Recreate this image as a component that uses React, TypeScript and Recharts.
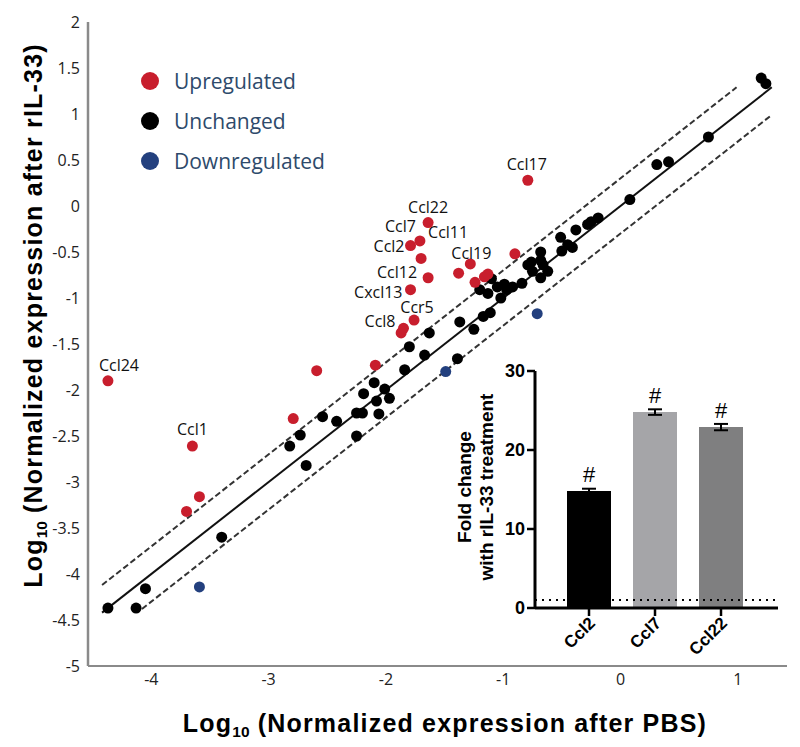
import React from "react";
import {
  ScatterChart,
  Scatter,
  XAxis,
  YAxis,
  ReferenceLine,
  BarChart,
  Bar,
  Cell,
  ErrorBar,
  LabelList,
} from "recharts";

type Pt = { x: number; y: number; name?: string };

// log10 expression: x = after PBS, y = after rIL-33
const upregulated: Pt[] = [
  { x: -4.37, y: -1.9, name: "Ccl24" },
  { x: -3.65, y: -2.61, name: "Ccl1" },
  { x: -3.59, y: -3.16 },
  { x: -3.7, y: -3.32 },
  { x: -2.79, y: -2.31 },
  { x: -2.59, y: -1.79 },
  { x: -2.09, y: -1.73 },
  { x: -1.87, y: -1.38 },
  { x: -1.85, y: -1.33, name: "Ccl8" },
  { x: -1.76, y: -1.24, name: "Ccr5" },
  { x: -1.79, y: -0.91, name: "Cxcl13" },
  { x: -1.64, y: -0.78, name: "Ccl12" },
  { x: -1.7, y: -0.57, name: "Ccl11" },
  { x: -1.79, y: -0.43, name: "Ccl2" },
  { x: -1.71, y: -0.38, name: "Ccl7" },
  { x: -1.64, y: -0.18, name: "Ccl22" },
  { x: -1.28, y: -0.63, name: "Ccl19" },
  { x: -1.38, y: -0.73 },
  { x: -1.24, y: -0.83 },
  { x: -1.16, y: -0.77 },
  { x: -1.13, y: -0.74 },
  { x: -0.9, y: -0.52 },
  { x: -0.79, y: 0.28, name: "Ccl17" },
];

const unchanged: Pt[] = [
  { x: -4.37, y: -4.37 },
  { x: -4.13, y: -4.37 },
  { x: -4.05, y: -4.16 },
  { x: -3.4, y: -3.6 },
  { x: -2.82, y: -2.61 },
  { x: -2.73, y: -2.49 },
  { x: -2.68, y: -2.82 },
  { x: -2.54, y: -2.29 },
  { x: -2.42, y: -2.34 },
  { x: -2.25, y: -2.25 },
  { x: -2.2, y: -2.25 },
  { x: -2.25, y: -2.5 },
  { x: -2.06, y: -2.26 },
  { x: -2.19, y: -2.04 },
  { x: -2.1, y: -1.92 },
  { x: -2.08, y: -2.12 },
  { x: -2.01, y: -1.99 },
  { x: -1.97, y: -2.09 },
  { x: -1.84, y: -1.78 },
  { x: -1.8, y: -1.53 },
  { x: -1.67, y: -1.62 },
  { x: -1.63, y: -1.38 },
  { x: -1.39, y: -1.66 },
  { x: -1.37, y: -1.26 },
  { x: -1.25, y: -1.34 },
  { x: -1.17, y: -1.2 },
  { x: -1.11, y: -1.16 },
  { x: -1.1, y: -0.79 },
  { x: -1.2, y: -0.91 },
  { x: -1.13, y: -0.95 },
  { x: -1.05, y: -0.88 },
  { x: -0.99, y: -0.85 },
  { x: -0.97, y: -0.91 },
  { x: -1.02, y: -1.0 },
  { x: -0.92, y: -0.88 },
  { x: -0.84, y: -0.84 },
  { x: -0.79, y: -0.64 },
  { x: -0.76, y: -0.61 },
  { x: -0.75, y: -0.71 },
  { x: -0.68, y: -0.5 },
  { x: -0.68, y: -0.59 },
  { x: -0.66, y: -0.64 },
  { x: -0.62, y: -0.71 },
  { x: -0.68, y: -0.78 },
  { x: -0.51, y: -0.34 },
  { x: -0.5, y: -0.49 },
  { x: -0.45, y: -0.42 },
  { x: -0.41, y: -0.45 },
  { x: -0.38, y: -0.26 },
  { x: -0.28, y: -0.2 },
  { x: -0.25, y: -0.17 },
  { x: -0.19, y: -0.13 },
  { x: 0.08, y: 0.07 },
  { x: 0.31, y: 0.45 },
  { x: 0.41, y: 0.48 },
  { x: 0.75, y: 0.75 },
  { x: 1.2, y: 1.39 },
  { x: 1.24, y: 1.33 },
];

const downregulated: Pt[] = [
  { x: -3.59, y: -4.14 },
  { x: -1.49, y: -1.8 },
  { x: -0.71, y: -1.17 },
];

// identity line and +/- 0.3 log bands: [xStart, xEnd, offset]
const fitLines: [number, number, number][] = [
  [-4.42, 1.29, 0],
  [-4.42, 0.99, 0.3],
  [-4.08, 1.29, -0.3],
];

const xTicks = [-4, -3, -2, -1, 0, 1];
const yTicks = [-5, -4.5, -4, -3.5, -3, -2.5, -2, -1.5, -1, -0.5, 0, 0.5, 1, 1.5, 2];

const legendItems = ["Upregulated", "Unchanged", "Downregulated"];

// inset: qPCR fold change
const insetGenes = ["Ccl2", "Ccl7", "Ccl22"];
const insetFold = [14.8, 24.8, 22.9];
const insetErr = [0.3, 0.35, 0.4];
const insetTicks = [0, 10, 20, 30];

const RED = "#c81e2d";
const BLUE = "#23407e";
const legendColors = [RED, "#000", BLUE];
const barColors = ["#000000", "#a5a5a8", "#7f7f80"];

// label placement relative to the dot: dx, dy, anchor
const labelPos: Record<string, [number, number, "start" | "middle" | "end"]> = {
  Ccl24: [11, -10, "middle"],
  Ccl1: [0, -11, "middle"],
  Ccl17: [-1, -10, "middle"],
  Ccl22: [0, -10, "middle"],
  Ccl7: [-4, -9, "end"],
  Ccl2: [-6, 6, "end"],
  Ccl11: [7, -20, "start"],
  Ccl12: [-11, 0, "end"],
  Cxcl13: [-8, 8, "end"],
  Ccl19: [1, -5, "middle"],
  Ccr5: [3, -7, "middle"],
  Ccl8: [-8, -1, "end"],
};

const dot = (color: string) => (props: any) => {
  const { cx, cy, payload } = props;
  const lp = payload && payload.name ? labelPos[payload.name] : null;
  return (
    <g>
      <circle cx={cx} cy={cy} r={5.5} fill={color} />
      {lp && (
        <text
          x={cx + lp[0]}
          y={cy + lp[1]}
          textAnchor={lp[2]}
          fontFamily="Open Sans"
          fontSize={16}
          fill="#111"
        >
          {payload.name}
        </text>
      )}
    </g>
  );
};

const InsetTick = (props: any) => {
  const { x, y, payload } = props;
  return (
    <g transform={`translate(${x + 3},${y + 2}) rotate(-45)`}>
      <text textAnchor="end" dy="0.35em" fontFamily="Liberation Sans" fontWeight="bold" fontSize={17} fill="#000">
        {payload.value}
      </text>
    </g>
  );
};

const titleStyle: React.CSSProperties = {
  position: "absolute",
  fontFamily: "Liberation Sans",
  fontWeight: "bold",
  fontSize: 25,
  lineHeight: "25px",
  letterSpacing: 1.2,
  color: "#000",
  textAlign: "center",
  whiteSpace: "nowrap",
};

const sub: React.CSSProperties = { fontSize: "0.62em", verticalAlign: "-0.35em", letterSpacing: 0 };

export default function App() {
  const insetData = insetGenes.map((g, i) => ({ gene: g, fold: insetFold[i], err: insetErr[i] }));

  return (
    <div style={{ position: "absolute", left: 0, top: 0, width: 800, height: 747, background: "#fff" }}>
      <ScatterChart width={800} height={747} margin={{ top: 22, right: 13, bottom: 51, left: 28 }}>
        <XAxis
          type="number"
          dataKey="x"
          domain={[-4.54, 1.42]}
          ticks={xTicks}
          allowDataOverflow
          tickLine={false}
          axisLine={{ stroke: "#8a8a8a", strokeWidth: 2 }}
          tick={{ fill: "#222", fontSize: 16, fontFamily: "Open Sans" }}
          height={30}
        />
        <YAxis
          type="number"
          dataKey="y"
          domain={[-5, 2]}
          ticks={yTicks}
          allowDataOverflow
          interval={0}
          tickLine={false}
          axisLine={{ stroke: "#8a8a8a", strokeWidth: 2.5 }}
          tick={{ fill: "#222", fontSize: 16, fontFamily: "Open Sans" }}
          width={60}
        />
        {fitLines.map(([x1, x2, off], i) => (
          <ReferenceLine
            key={i}
            segment={[
              { x: x1, y: x1 + off },
              { x: x2, y: x2 + off },
            ]}
            stroke={off === 0 ? "#111" : "#333"}
            strokeWidth={2}
            strokeDasharray={off === 0 ? undefined : "6 3"}
            ifOverflow="visible"
          />
        ))}
        <Scatter data={unchanged} shape={dot("#000")} isAnimationActive={false} />
        <Scatter data={downregulated} shape={dot(BLUE)} isAnimationActive={false} />
        <Scatter data={upregulated} shape={dot(RED)} isAnimationActive={false} />
      </ScatterChart>

      {/* legend */}
      {legendItems.map((name, i) => (
        <div
          key={name}
          style={{ position: "absolute", left: 141, top: 70 + i * 40, height: 22, display: "flex", alignItems: "center" }}
        >
          <div style={{ width: 18, height: 18, borderRadius: 9, background: legendColors[i] }} />
          <span style={{ marginLeft: 15, fontFamily: "Open Sans", fontSize: 21, color: "#2e4a6b" }}>{name}</span>
        </div>
      ))}

      {/* axis titles */}
      <div style={{ ...titleStyle, left: 45, top: 711, width: 800 }}>
        Log<span style={sub}>10</span> (Normalized expression after PBS)
      </div>
      <div
        style={{
          ...titleStyle,
          left: 33 - 300,
          top: 315 - 12,
          width: 600,
          height: 25,
          transform: "rotate(-90deg)",
        }}
      >
        Log<span style={sub}>10</span> (Normalized expression after rIL-33)
      </div>

      {/* inset bar chart */}
      <div style={{ position: "absolute", left: 430, top: 355 }}>
        <BarChart width={370} height={320} data={insetData} margin={{ top: 16, right: 22, bottom: 7, left: 65 }}>
          <ReferenceLine y={1} stroke="#000" strokeWidth={2} strokeDasharray="2 5" />
          <XAxis
            dataKey="gene"
            padding={{ left: 21, right: 24 }}
            height={60}
            interval={0}
            tickSize={8}
            tickLine={{ stroke: "#000", strokeWidth: 2.5 }}
            axisLine={{ stroke: "#000", strokeWidth: 3 }}
            tick={<InsetTick />}
          />
          <YAxis
            domain={[0, 30]}
            ticks={insetTicks}
            width={40}
            tickSize={8}
            tickLine={{ stroke: "#000", strokeWidth: 2.5 }}
            axisLine={{ stroke: "#000", strokeWidth: 3 }}
            tick={{ fill: "#000", fontSize: 18, fontWeight: "bold", fontFamily: "Liberation Sans" }}
          />
          <Bar dataKey="fold" barSize={44} isAnimationActive={false}>
            {insetData.map((d, i) => (
              <Cell key={d.gene} fill={barColors[i]} />
            ))}
            <ErrorBar dataKey="err" width={7} stroke="#000" strokeWidth={2} />
            <LabelList
              dataKey="fold"
              position="top"
              offset={9}
              formatter={() => "#"}
              style={{ fontSize: 22, fontFamily: "Liberation Sans", fill: "#000" }}
            />
          </Bar>
        </BarChart>
      </div>
      <div
        style={{
          position: "absolute",
          left: 476 - 130,
          top: 487 - 22,
          width: 260,
          height: 44,
          transform: "rotate(-90deg)",
          fontFamily: "Liberation Sans",
          fontWeight: "bold",
          fontSize: 19,
          lineHeight: "22px",
          textAlign: "center",
          color: "#000",
        }}
      >
        Fold change
        <br />
        with rIL-33 treatment
      </div>
    </div>
  );
}
